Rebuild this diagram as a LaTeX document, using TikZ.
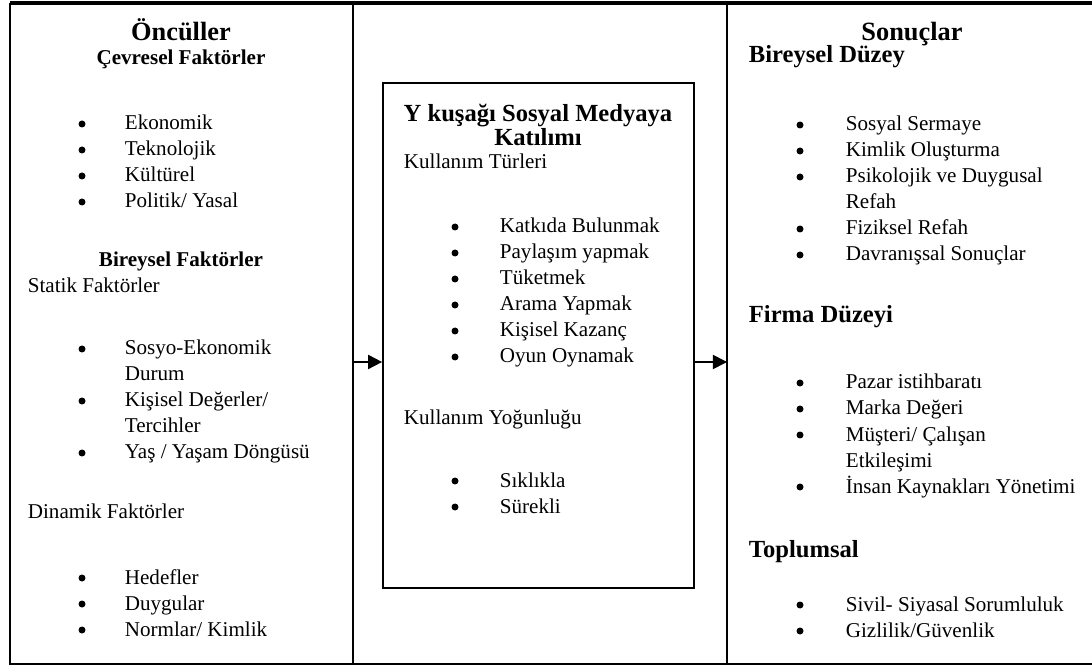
\documentclass[tikz,border=0pt]{standalone}
\usepackage{fontspec}
\setmainfont{Liberation Serif}
\usetikzlibrary{positioning, arrows.meta}

\begin{document}
\begin{tikzpicture}[x=0.02cm, y=-0.02cm, >={Triangle[length=8pt, width=8pt]},
                  line width=1pt,
                  txt/.style={anchor=base west, inner sep=0pt,
                      font=\fontsize{12}{14.4}\selectfont},
                  dot/.style={circle, fill, inner sep=0pt, minimum size=0.14cm},
                  bighead/.style={anchor=base, inner sep=0pt,
                      font=\fontsize{15}{17}\selectfont\bfseries},
                  subhead/.style={anchor=base west, inner sep=0pt,
                      font=\fontsize{14}{16}\selectfont\bfseries},
                  smallhead/.style={anchor=base, inner sep=0pt,
                      font=\fontsize{12}{14.4}\selectfont\bfseries},
                  midbox/.style={draw, rectangle, minimum width=6.22cm,
                      minimum height=10.1cm, inner sep=0pt}]

                  \useasboundingbox (0,0) rectangle (1092,665);

                  % Cerceve ve sutun cizgileri.
                  \draw[line width=1.8pt] (1092,3) -- (10,3);
                  \draw (10,3) -- (10,664) -- (1092,664);
                  \draw (353,3) -- (353,664);
                  \draw (727,3) -- (727,664);
                  \coordinate (lcut) at (353,362);
                  \coordinate (rcut) at (727,362);

                  % Orta kutu.
                  \node[midbox] (mid) at (538.5,335.5) {};

                  % Sol sutun: Onculler.
                  \node[bighead] (ante) at (181,41) {Öncüller};
                  \node[smallhead] (cevre) at (181,65) {Çevresel Faktörler};
                  \foreach \yy/\t [count=\i] in {130/Ekonomik, 156/Teknolojik,
                      182/Kültürel, 208/{Politik/ Yasal}}
                      \node[txt] (ce-\i) at (124,\yy) {\t};
                  \node[smallhead] (birey) at (181,267) {Bireysel Faktörler};
                  \node[txt] (statik) at (27,293) {Statik Faktörler};
                  \foreach \yy/\t [count=\i] in {355/Sosyo-Ekonomik, 381/Durum,
                      407/{Kişisel Değerler/}, 433/Tercihler,
                      459/{Yaş / Yaşam Döngüsü}}
                      \node[txt] (st-\i) at (124,\yy) {\t};
                  \node[txt] (dinamik) at (27,518) {Dinamik Faktörler};
                  \foreach \yy/\t [count=\i] in {584/Hedefler, 610/Duygular,
                      636/{Normlar/ Kimlik}}
                      \node[txt] (di-\i) at (124,\yy) {\t};
                  \foreach \yy [count=\i] in {130,156,182,208,355,407,459,584,610,636}
                      \node[dot] (lb-\i) at (82,\yy-6) {};

                  % Orta sutun: katilim.
                  \node[subhead, anchor=base] (ytitle) at (538,122)
                      {Y kuşağı Sosyal Medyaya};
                  \node[subhead, anchor=base] (ytitle2) at (538,146) {Katılımı};
                  \node[txt] (turler) at (403,169) {Kullanım Türleri};
                  \foreach \yy/\t [count=\i] in {233/Katkıda Bulunmak,
                      259/Paylaşım yapmak, 285/Tüketmek, 311/Arama Yapmak,
                      337/Kişisel Kazanç, 363/Oyun Oynamak}
                      \node[txt] (tu-\i) at (499,\yy) {\t};
                  \node[txt] (yogun) at (403,424) {Kullanım Yoğunluğu};
                  \foreach \yy/\t [count=\i] in {487/Sıklıkla, 513/Sürekli}
                      \node[txt] (yo-\i) at (499,\yy) {\t};
                  \foreach \yy [count=\i] in {233,259,285,311,337,363,487,513}
                      \node[dot] (mb-\i) at (455,\yy-6) {};

                  % Sag sutun: sonuclar.
                  \node[bighead] (sonuc) at (912,41) {Sonuçlar};
                  \node[subhead] (bduzey) at (748,63) {Bireysel Düzey};
                  \foreach \yy/\t [count=\i] in {131/Sosyal Sermaye,
                      157/Kimlik Oluşturma, 183/Psikolojik ve Duygusal,
                      209/Refah, 235/Fiziksel Refah, 261/Davranışsal Sonuçlar}
                      \node[txt] (bd-\i) at (845,\yy) {\t};
                  \node[subhead] (fduzey) at (748,323) {Firma Düzeyi};
                  \foreach \yy/\t [count=\i] in {389/Pazar istihbaratı,
                      415/Marka Değeri, 441/{Müşteri/ Çalışan}, 467/Etkileşimi,
                      493/İnsan Kaynakları Yönetimi}
                      \node[txt] (fd-\i) at (845,\yy) {\t};
                  \node[subhead] (toplum) at (748,557) {Toplumsal};
                  \foreach \yy/\t [count=\i] in {611/Sivil- Siyasal Sorumluluk,
                      637/{Gizlilik/Güvenlik}}
                      \node[txt] (to-\i) at (845,\yy) {\t};
                  \foreach \yy [count=\i] in {131,157,183,235,261,389,415,441,493,611,637}
                      \node[dot] (rb-\i) at (800,\yy-6) {};

                  % Oklar.
                  \draw[->] (lcut) -- (lcut -| mid.west);
                  \draw[->] (mid.east |- rcut) -- (rcut);

\end{tikzpicture}
\end{document}
